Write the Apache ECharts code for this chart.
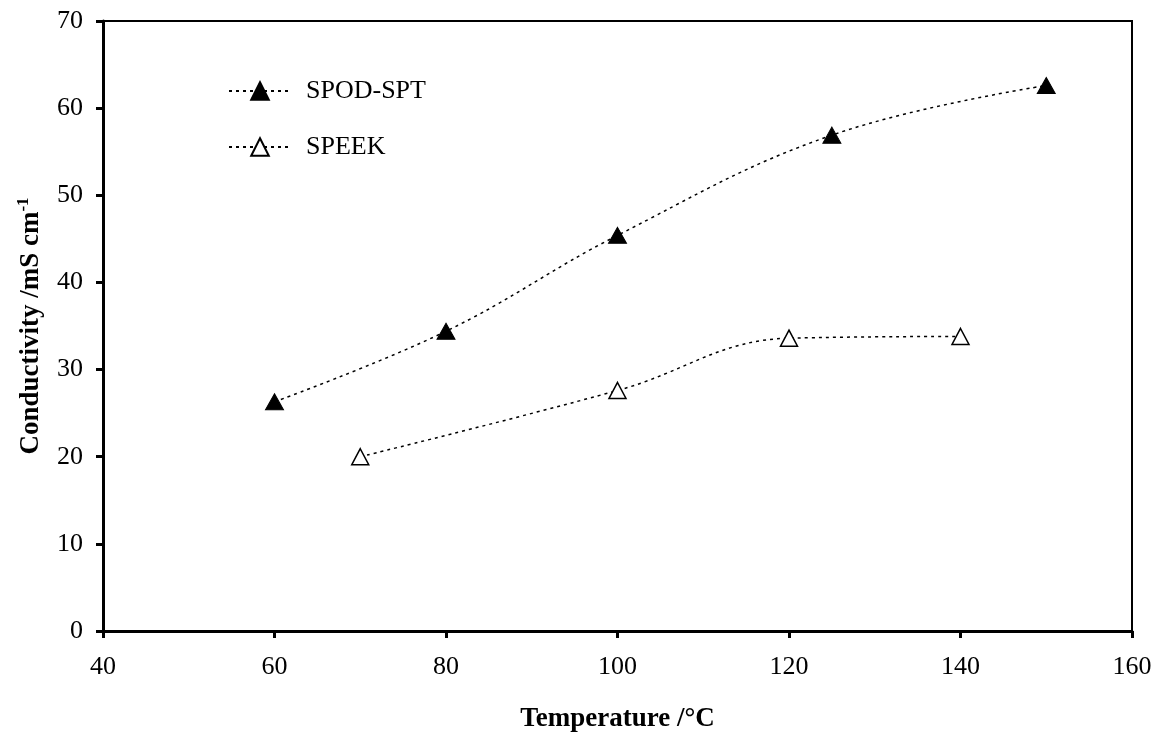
<!DOCTYPE html>
<html>
<head>
<meta charset="utf-8">
<script src="https://cdn.jsdelivr.net/npm/echarts@6/dist/echarts.min.js"></script>
<style>
  html, body { margin: 0; padding: 0; background: #fff; }
  #chart { width: 1160px; height: 738px; }
</style>
</head>
<body>
<div id="chart"></div>
<script>
// values
let spodTemp = [60, 80, 100, 125, 150];
let spodCond = [26.3, 34.4, 45.4, 56.9, 62.6];
let speekTemp = [70, 100, 120, 140];
let speekCond = [20.0, 27.6, 33.6, 33.8];

let pairs = (xs, ys) => xs.map((x, i) => [x, ys[i]]);
let font = 'Liberation Serif';

let option = {
    animation: false,
    backgroundColor: '#fff',
    textStyle: { fontFamily: font, color: '#000' },
    grid: {
        left: 103,
        right: 28,
        top: 21,
        bottom: 106,
        show: true,
        borderColor: '#000',
        borderWidth: 2
    },
    legend: {
        orient: 'vertical',
        left: 223,
        top: 73,
        itemGap: 30,
        itemWidth: 62,
        itemHeight: 22,
        textStyle: { fontFamily: font, fontSize: 26, color: '#000', padding: [0, 0, 0, 10] },
        data: ['SPOD-SPT', 'SPEEK']
    },
    xAxis: {
        type: 'value',
        min: 40,
        max: 160,
        interval: 20,
        name: 'Temperature /°C',
        nameLocation: 'middle',
        nameGap: 75,
        nameTextStyle: { fontFamily: font, fontSize: 27, fontWeight: 'bold', color: '#000' },
        axisLine: { lineStyle: { color: '#000', width: 3 } },
        axisTick: { show: true, length: 7, lineStyle: { color: '#000', width: 3 } },
        axisLabel: { fontFamily: font, fontSize: 26, color: '#000', margin: 23 },
        splitLine: { show: false }
    },
    yAxis: {
        type: 'value',
        min: 0,
        max: 70,
        interval: 10,
        name: '{a|Conductivity /mS cm}{s|-1}',
        nameLocation: 'middle',
        nameGap: 58,
        nameTextStyle: {
            fontFamily: font,
            color: '#000',
            rich: {
                a: { fontFamily: font, fontSize: 27, fontWeight: 'bold', color: '#000', lineHeight: 30, verticalAlign: 'bottom' },
                s: { fontFamily: font, fontSize: 17, fontWeight: 'bold', color: '#000', lineHeight: 30, verticalAlign: 'top' }
            }
        },
        axisLine: { lineStyle: { color: '#000', width: 3 } },
        axisTick: { show: true, length: 7, lineStyle: { color: '#000', width: 3 } },
        axisLabel: { fontFamily: font, fontSize: 26, color: '#000', margin: 20 },
        splitLine: { show: false }
    },
    series: [
        {
            name: 'SPOD-SPT',
            type: 'line',
            smooth: 0.4,
            symbol: 'triangle',
            symbolSize: [18, 16],
            itemStyle: { color: '#000', borderColor: '#000', borderWidth: 1 },
            lineStyle: { color: '#000', width: 1.5, type: [3, 4] },
            data: pairs(spodTemp, spodCond)
        },
        {
            name: 'SPEEK',
            type: 'line',
            smooth: 0.4,
            symbol: 'triangle',
            symbolSize: [17, 16],
            itemStyle: { color: '#fff', borderColor: '#000', borderWidth: 1.5 },
            lineStyle: { color: '#000', width: 1.5, type: [3, 4] },
            data: pairs(speekTemp, speekCond)
        }
    ]
};

let chart = echarts.init(document.getElementById('chart'));
chart.setOption(option);
</script>
</body>
</html>
